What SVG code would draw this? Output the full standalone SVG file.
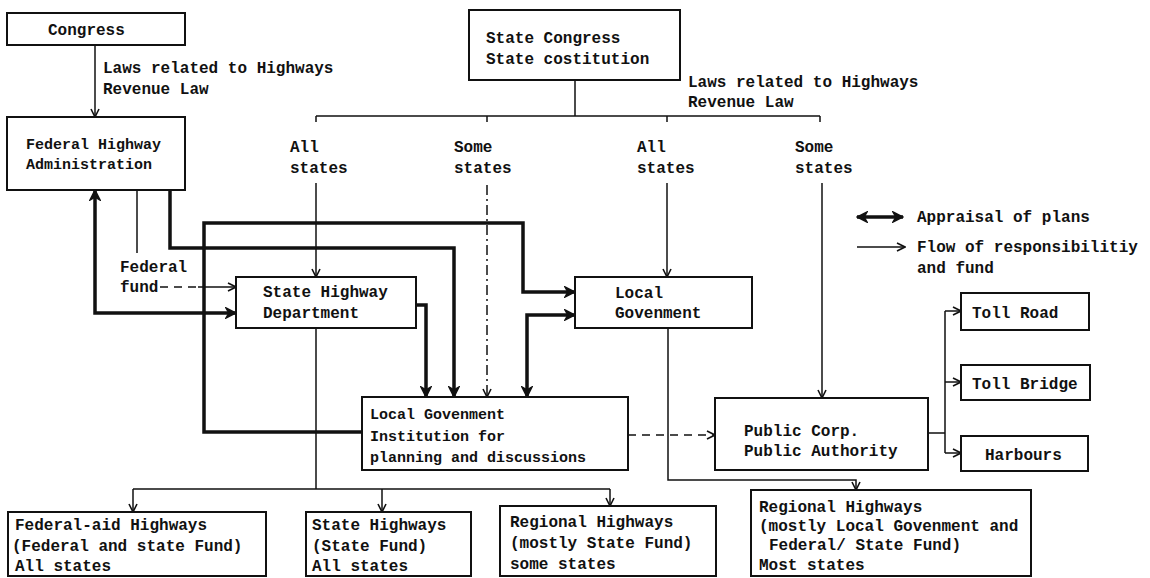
<svg xmlns="http://www.w3.org/2000/svg" width="1150" height="578" viewBox="0 0 1150 578">
<style>
  text { font-family: "Liberation Mono", "DejaVu Sans Mono", monospace; font-size: 16px; font-weight: bold; fill: #111; }
  .sm { font-size: 15px; }
  .box { fill: #fff; stroke: #111; stroke-width: 2; }
  .thin { fill: none; stroke: #111; stroke-width: 1.5; }
  .thick { fill: none; stroke: #111; stroke-width: 3.5; }
  .dash { stroke-dasharray: 8 6; }
  .dashdot { stroke-dasharray: 10 4 2 4; }
</style>
<defs>
  <marker id="a" viewBox="0 0 10 10" refX="9" refY="5" markerWidth="10" markerHeight="10" markerUnits="userSpaceOnUse" orient="auto-start-reverse">
    <path d="M1,1 L9,5 L1,9" fill="none" stroke="#111" stroke-width="1.6"/>
  </marker>
  <marker id="b" viewBox="0 0 12 12" refX="11" refY="6" markerWidth="12" markerHeight="12" markerUnits="userSpaceOnUse" orient="auto-start-reverse">
    <path d="M1,1 L11,6 L1,11 L4,6 Z" fill="#111" stroke="#111" stroke-width="1.5"/>
  </marker>
</defs>

<g id="connectors">
  <!-- thin flows -->
  <path class="thin" d="M95,45 V117" marker-end="url(#a)"/>
  <path class="thin" d="M575,80 V116 M316,116 H820 M316,116 V122 M487,116 V122 M667,116 V122 M820,116 V122"/>
  <path class="thin" d="M316,183 V277" marker-end="url(#a)"/>
  <path class="thin dashdot" d="M487,185 V397" marker-end="url(#a)"/>
  <path class="thin" d="M667,183 V277" marker-end="url(#a)"/>
  <path class="thin" d="M822,183 V398" marker-end="url(#a)"/>
  <path class="thin" d="M137,190 V253"/>
  <path class="thin dash" d="M160,287 H200"/>
  <path class="thin" d="M198,287 H236" marker-end="url(#a)"/>
  <path class="thin" d="M316,328 V489 M133,489 H610"/>
  <path class="thin" d="M133,489 V512" marker-end="url(#a)"/>
  <path class="thin" d="M382,489 V512" marker-end="url(#a)"/>
  <path class="thin" d="M610,489 V506" marker-end="url(#a)"/>
  <path class="thin" d="M668,328 V480 H856 V490" marker-end="url(#a)"/>
  <path class="thin dash" d="M628,435 H715" marker-end="url(#a)"/>
  <path class="thin" d="M928,433 H945 M945,311 V453"/>
  <path class="thin" d="M945,311 H961" marker-end="url(#a)"/>
  <path class="thin" d="M945,382 H961" marker-end="url(#a)"/>
  <path class="thin" d="M945,453 H961" marker-end="url(#a)"/>
  <!-- thick appraisal -->
  <path class="thick" d="M95,190 V313 H236" marker-start="url(#b)" marker-end="url(#b)"/>
  <path class="thick" d="M170,190 V248 H454 V397" marker-end="url(#b)"/>
  <path class="thick" d="M362,432 H204 V223 H523 V292 H575" marker-end="url(#b)"/>
  <path class="thick" d="M575,315 H527 V397" marker-start="url(#b)" marker-end="url(#b)"/>
  <path class="thick" d="M416,305 H426 V397" marker-end="url(#b)"/>
</g>

<g id="labels">
  <text x="103" y="73">Laws related to Highways</text>
  <text x="103" y="94">Revenue Law</text>
  <text x="688" y="87">Laws related to Highways</text>
  <text x="688" y="107">Revenue Law</text>
  <text x="290" y="152">All</text>
  <text x="290" y="173">states</text>
  <text x="454" y="152">Some</text>
  <text x="454" y="173">states</text>
  <text x="637" y="152">All</text>
  <text x="637" y="173">states</text>
  <text x="795" y="152">Some</text>
  <text x="795" y="173">states</text>
  <text x="120" y="272">Federal</text>
  <text x="120" y="292">fund</text>
</g>

<g id="legend">
  <path class="thick" d="M857,217 H903" marker-start="url(#b)" marker-end="url(#b)"/>
  <path class="thin" d="M857,247 H905" marker-end="url(#a)"/>
  <text x="917" y="222">Appraisal of plans</text>
  <text x="917" y="252">Flow of responsibilitiy</text>
  <text x="917" y="273">and fund</text>
</g>

<g id="congress">
  <rect class="box" x="7" y="13" width="178" height="32"/>
  <text x="48" y="35">Congress</text>
</g>
<g id="fha">
  <rect class="box" x="7" y="117" width="178" height="73"/>
  <text class="sm" x="26" y="149">Federal Highway</text>
  <text class="sm" x="26" y="169">Administration</text>
</g>
<g id="state-congress">
  <rect class="box" x="469" y="10" width="211" height="70"/>
  <text x="486" y="43">State Congress</text>
  <text x="486" y="64">State costitution</text>
</g>
<g id="state-highway-department">
  <rect class="box" x="236" y="277" width="180" height="51"/>
  <text x="263" y="297">State Highway</text>
  <text x="263" y="318">Department</text>
</g>
<g id="local-government">
  <rect class="box" x="575" y="277" width="177" height="51"/>
  <text x="615" y="298">Local</text>
  <text x="615" y="318">Govenment</text>
</g>
<g id="local-gov-institution">
  <rect class="box" x="362" y="397" width="266" height="73"/>
  <text class="sm" x="370" y="419">Local Govenment</text>
  <text class="sm" x="370" y="441">Institution for</text>
  <text class="sm" x="370" y="462">planning and discussions</text>
</g>
<g id="public-corp">
  <rect class="box" x="715" y="398" width="213" height="72"/>
  <text x="744" y="436">Public Corp.</text>
  <text x="744" y="456">Public Authority</text>
</g>
<g id="toll-road">
  <rect class="box" x="961" y="293" width="128" height="37"/>
  <text x="972" y="318">Toll Road</text>
</g>
<g id="toll-bridge">
  <rect class="box" x="961" y="365" width="129" height="35"/>
  <text x="972" y="389">Toll Bridge</text>
</g>
<g id="harbours">
  <rect class="box" x="961" y="436" width="127" height="35"/>
  <text x="985" y="460">Harbours</text>
</g>
<g id="federal-aid-highways">
  <rect class="box" x="8" y="512" width="258" height="64"/>
  <text x="15" y="530">Federal-aid Highways</text>
  <text x="12" y="551">(Federal and state Fund)</text>
  <text x="15" y="571">All states</text>
</g>
<g id="state-highways">
  <rect class="box" x="306" y="512" width="165" height="64"/>
  <text x="312" y="530">State Highways</text>
  <text x="312" y="551">(State Fund)</text>
  <text x="312" y="571">All states</text>
</g>
<g id="regional-highways-some">
  <rect class="box" x="500" y="506" width="216" height="70"/>
  <text x="510" y="527">Regional Highways</text>
  <text x="510" y="548">(mostly State Fund)</text>
  <text x="510" y="569">some states</text>
</g>
<g id="regional-highways-most">
  <rect class="box" x="751" y="490" width="280" height="86"/>
  <text x="759" y="512">Regional Highways</text>
  <text x="759" y="531">(mostly Local Govenment and</text>
  <text x="769" y="550">Federal/ State Fund)</text>
  <text x="759" y="570">Most states</text>
</g>
</svg>
